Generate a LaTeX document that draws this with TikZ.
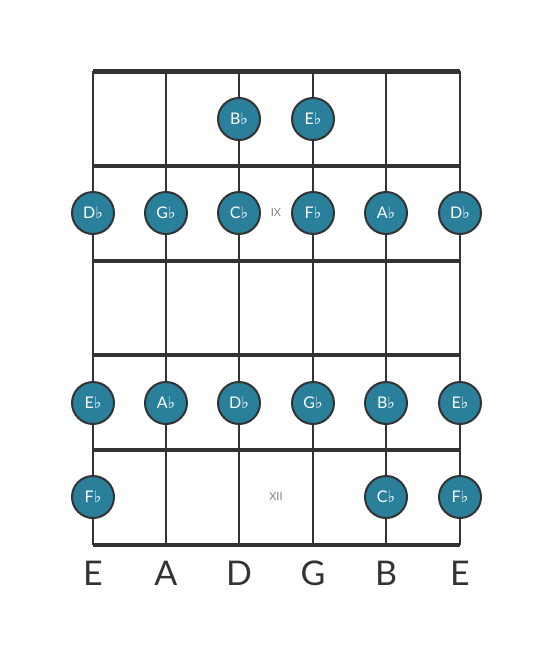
\documentclass[tikz,border=0pt]{standalone}
\usepackage{fontspec}
\setmainfont{Lato}
\newfontfamily\flatfont{DejaVu Sans}
\usepackage{tikz}
\definecolor{dotteal}{HTML}{2A7F9B}
\definecolor{wire}{HTML}{333333}
\newcommand{\fl}{{\flatfont\fontsize{16}{16}\selectfont ♭}}
\tikzset{
  note/.style={circle, draw=wire, line width=2pt, fill=dotteal, minimum size=42pt, inner sep=0pt, text=white, font=\fontsize{16}{16}\selectfont},
  fretno/.style={text=gray, font=\fontsize{11}{11}\selectfont},
  strname/.style={text=wire, font=\fontsize{34}{34}\selectfont}
}
\begin{document}
\begin{tikzpicture}[x=1pt, y=-1pt]
\useasboundingbox (0,0) rectangle (553,656);
% strings
\foreach \s/\x/\n in {1/93/E,2/166/A,3/239/D,4/313/G,5/386/B,6/460/E} {
  \coordinate (top\s) at (\x,71);
  \coordinate (bot\s) at (\x,545);
  \draw[wire, line width=2.5pt] (top\s) -- (bot\s);
  \node[strname] (name\s) at (\x,573) {\n};
}
% frets
\draw[wire, line width=5pt] (top1) -- (top6);
\foreach \y in {166,261,355,450} {\draw[wire, line width=4pt] (93,\y) -- (460,\y);}
\draw[wire, line width=4pt] (bot1) -- (bot6);
\node[fretno] (ix) at (276,213) {IX};
\node[fretno] (xii) at (276,497) {XII};
% notes
\node[note] (bb1) at (239,119) {B\fl};
\node[note] (eb1) at (313,119) {E\fl};
\foreach \x/\n [count=\i] in {93/D,166/G,239/C,313/F,386/A,460/D} {\node[note] (r2n\i) at (\x,213) {\n\fl};}
\foreach \x/\n [count=\i] in {93/E,166/A,239/D,313/G,386/B,460/E} {\node[note] (r3n\i) at (\x,403) {\n\fl};}
\node[note] (fb4) at (93,497) {F\fl};
\node[note] (cb4) at (386,497) {C\fl};
\node[note] (fb5) at (460,497) {F\fl};
\end{tikzpicture}
\end{document}
